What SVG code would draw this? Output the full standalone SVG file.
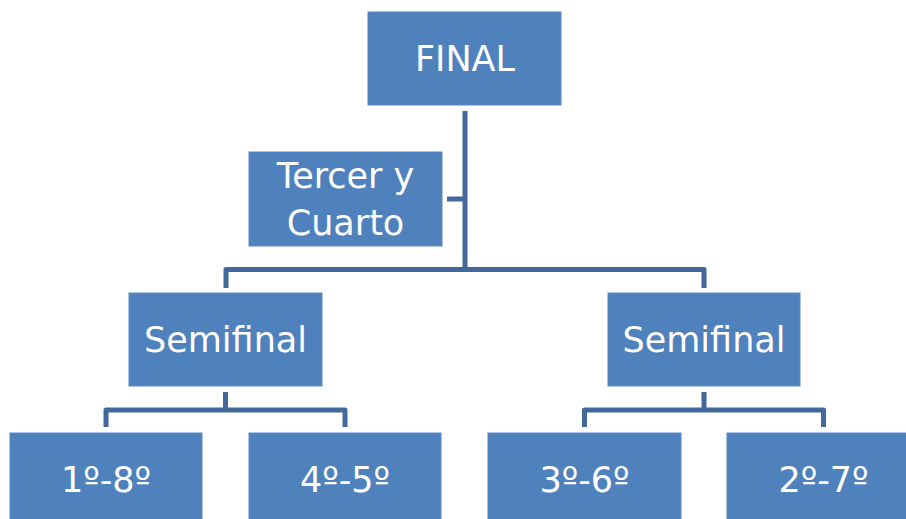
<svg xmlns="http://www.w3.org/2000/svg" width="906" height="519" viewBox="0 0 906 519">
<style>
.box{fill:#4F81BD;stroke:#5A8AC4;stroke-width:1}
.lbl{fill:#FFFFFF;font-family:"DejaVu Sans","Liberation Sans",sans-serif;font-size:35px;text-anchor:middle}
.conn{fill:none;stroke:#41699C;stroke-width:5;stroke-linejoin:round}
</style>
<rect width="906" height="519" fill="#FFFFFF"/>
<g id="connectors">
<path class="conn" d="M465 111 V269.5"/>
<path class="conn" d="M447 199 H465"/>
<path class="conn" d="M226 288 V269.5 H704 V288"/>
<path class="conn" d="M225.5 392 V410"/>
<path class="conn" d="M106 427 V410 H345 V427"/>
<path class="conn" d="M704 392 V410"/>
<path class="conn" d="M584.5 427 V410 H823.5 V427"/>
</g>
<g id="final">
<rect class="box" x="368" y="12" width="193" height="93"/>
<text class="lbl" x="465" y="71">FINAL</text>
</g>
<g id="tercer">
<rect class="box" x="249" y="152" width="193" height="94"/>
<text class="lbl" x="345.5" y="188">Tercer y</text>
<text class="lbl" x="345.5" y="235">Cuarto</text>
</g>
<g id="semi-left">
<rect class="box" x="129" y="293" width="193" height="93"/>
<text class="lbl" x="225.5" y="352">Semifinal</text>
</g>
<g id="semi-right">
<rect class="box" x="608" y="293" width="192" height="93"/>
<text class="lbl" x="704" y="352">Semifinal</text>
</g>
<g id="q18">
<rect class="box" x="10" y="433" width="192" height="93"/>
<text class="lbl" x="106" y="492">1º-8º</text>
</g>
<g id="q45">
<rect class="box" x="249" y="433" width="192" height="93"/>
<text class="lbl" x="345" y="492">4º-5º</text>
</g>
<g id="q36">
<rect class="box" x="488" y="433" width="193" height="93"/>
<text class="lbl" x="584.5" y="492">3º-6º</text>
</g>
<g id="q27">
<rect class="box" x="727" y="433" width="193" height="93"/>
<text class="lbl" x="823.5" y="492">2º-7º</text>
</g>
</svg>
